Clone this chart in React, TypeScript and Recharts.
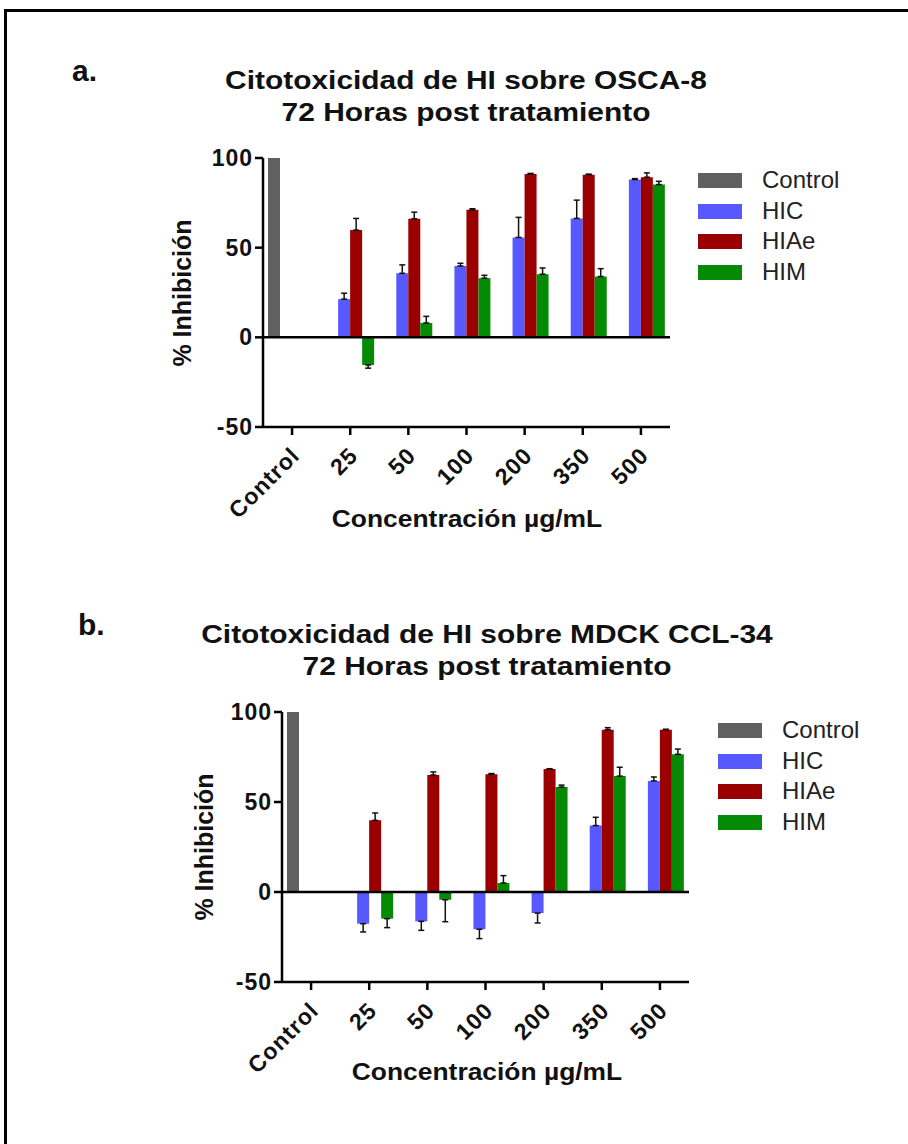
import React from "react";
import { BarChart, Bar, XAxis, YAxis, ErrorBar, ReferenceLine } from "recharts";

const categories = ["Control", "25", "50", "100", "200", "350", "500"];
const yTicks = [-50, 0, 50, 100];

// a. OSCA-8
const controlA = [100, null, null, null, null, null, null];
const hicA = [null, 21.3, 35.7, 39.8, 55.7, 66.3, 88.0];
const hicErrA = [null, 3.3, 4.7, 1.5, 11.2, 10.2, 0.5];
const hiaeA = [null, 59.8, 66.1, 71.1, 91.1, 90.7, 89.3];
const hiaeErrA = [null, 6.5, 3.7, 0.6, 0.3, 0.3, 2.4];
const himA = [null, -15.4, 8.0, 33.0, 35.2, 33.9, 85.2];
const himErrA = [null, 1.8, 3.7, 1.6, 3.5, 4.4, 1.8];

// b. MDCK CCL-34
const controlB = [100, null, null, null, null, null, null];
const hicB = [null, -17.6, -16.3, -20.7, -11.7, 36.9, 61.7];
const hicErrB = [null, 4.6, 5.0, 5.2, 5.5, 4.6, 2.2];
const hiaeB = [null, 39.8, 65.0, 65.4, 68.3, 90.2, 90.2];
const hiaeErrB = [null, 4.1, 1.7, 0.4, 0.2, 1.1, 0.2];
const himB = [null, -14.8, -4.3, 5.0, 58.3, 64.4, 76.5];
const himErrB = [null, 5.0, 12.2, 4.1, 1.1, 4.9, 2.9];

const series = [
  { key: "control", name: "Control", color: "#606060" },
  { key: "hic", name: "HIC", color: "#5858ff" },
  { key: "hiae", name: "HIAe", color: "#9a0000" },
  { key: "him", name: "HIM", color: "#058a05" },
];

const FONT = '"Liberation Sans", Arial, sans-serif';

// one-sided SD bars, pointing away from zero
function errPair(v: number | null, e: number | null) {
  if (v == null || e == null) return null;
  return v < 0 ? [e, 0] : [0, e];
}

function buildRows(
  control: (number | null)[],
  hic: (number | null)[],
  hicErr: (number | null)[],
  hiae: (number | null)[],
  hiaeErr: (number | null)[],
  him: (number | null)[],
  himErr: (number | null)[]
) {
  return categories.map((cat, i) => ({
    cat,
    control: control[i],
    hic: hic[i],
    hicErr: errPair(hic[i], hicErr[i]),
    hiae: hiae[i],
    hiaeErr: errPair(hiae[i], hiaeErr[i]),
    him: him[i],
    himErr: errPair(him[i], himErr[i]),
  }));
}

const dataA = buildRows(controlA, hicA, hicErrA, hiaeA, hiaeErrA, himA, himErrA);
const dataB = buildRows(controlB, hicB, hicErrB, hiaeB, hiaeErrB, himB, himErrB);

const AngledTick = (props: any) => {
  const { x, y, payload } = props;
  return (
    <g transform={`translate(${x + 9},${y + 20}) rotate(-45)`}>
      <text
        x={0}
        y={0}
        textAnchor="end"
        fontFamily={FONT}
        fontWeight="bold"
        fontSize={23}
        letterSpacing={1}
        fill="#111"
      >
        {payload.value}
      </text>
    </g>
  );
};

interface PanelProps {
  data: any[];
  top: number;
  height: number;
  plotLeft: number;
  plotRight: number;
  plotTop: number;
  plotBottom: number;
  letter: string;
  letterX: number;
  letterY: number;
  title: string[];
  titleX: number;
  titleY: number;
  legendX: number;
  legendY: number;
  yLabelX: number;
  xLabelX: number;
  xLabelY: number;
}

function Panel(p: PanelProps) {
  const xAxisH = 90;
  const yAxisW = 60;
  const margin = {
    top: p.plotTop - p.top,
    left: p.plotLeft - yAxisW,
    right: 908 - p.plotRight,
    bottom: p.top + p.height - p.plotBottom - xAxisH,
  };
  const yMid = (p.plotTop + p.plotBottom) / 2;
  return (
    <>
      <div
        style={{
          position: "absolute",
          left: p.letterX,
          top: p.letterY,
          fontFamily: FONT,
          fontWeight: "bold",
          fontSize: 30,
          lineHeight: "30px",
          color: "#111",
        }}
      >
        {p.letter}
      </div>
      <div style={{ position: "absolute", left: p.titleX, top: p.titleY - 16, width: 0 }}>
        {p.title.map((t, i) => (
          <div
            key={i}
            style={{
              position: "absolute",
              left: 0,
              top: i * 32,
              whiteSpace: "nowrap",
              transform: "translateX(-50%) scaleX(1.15)",
              fontFamily: FONT,
              fontWeight: "bold",
              fontSize: 26,
              lineHeight: "32px",
              color: "#111",
            }}
          >
            {t}
          </div>
        ))}
      </div>
      <div style={{ position: "absolute", left: 0, top: p.top }}>
        <BarChart width={908} height={p.height} data={p.data} margin={margin} barGap={0} barSize={12}>
          <XAxis
            dataKey="cat"
            height={xAxisH}
            interval={0}
            axisLine={{ stroke: "#000", strokeWidth: 2.5 }}
            tickLine={{ stroke: "#000", strokeWidth: 2.5 }}
            tickSize={8}
            tick={<AngledTick />}
          />
          <YAxis
            width={yAxisW}
            domain={[-50, 100]}
            ticks={yTicks}
            interval={0}
            axisLine={{ stroke: "#000", strokeWidth: 2.5 }}
            tickLine={{ stroke: "#000", strokeWidth: 2.5 }}
            tickSize={8}
            tick={{ fontFamily: FONT, fontWeight: "bold", fontSize: 23, fill: "#111", letterSpacing: 1 }}
          />
          {series.map((s) => (
            <Bar key={s.key} dataKey={s.key} fill={s.color} isAnimationActive={false}>
              {s.key !== "control" && (
                <ErrorBar dataKey={`${s.key}Err`} width={3} strokeWidth={1.5} stroke="#111" direction="y" />
              )}
            </Bar>
          ))}
          <ReferenceLine y={0} stroke="#000" strokeWidth={2.5} />
        </BarChart>
      </div>
      <div
        style={{
          position: "absolute",
          left: p.yLabelX,
          top: yMid,
          transform: "translate(-50%, -50%) rotate(-90deg)",
          whiteSpace: "nowrap",
          fontFamily: FONT,
          fontWeight: "bold",
          fontSize: 25,
          color: "#111",
        }}
      >
        % Inhibición
      </div>
      <div
        style={{
          position: "absolute",
          left: p.xLabelX,
          top: p.xLabelY,
          transform: "translate(-50%, -50%) scaleX(1.1)",
          whiteSpace: "nowrap",
          fontFamily: FONT,
          fontWeight: "bold",
          fontSize: 24,
          color: "#111",
        }}
      >
        Concentración µg/mL
      </div>
      <div style={{ position: "absolute", left: p.legendX, top: p.legendY }}>
        {series.map((s, i) => (
          <div key={s.key} style={{ position: "absolute", left: 0, top: i * 30.7, height: 30, width: 200 }}>
            <div style={{ position: "absolute", left: 0, top: 8, width: 44, height: 15, background: s.color }} />
            <div
              style={{
                position: "absolute",
                left: 64,
                top: 1,
                fontFamily: FONT,
                fontSize: 24,
                lineHeight: "28px",
                color: "#222",
                whiteSpace: "nowrap",
              }}
            >
              {s.name}
            </div>
          </div>
        ))}
      </div>
    </>
  );
}

export default function App() {
  return (
    <div style={{ position: "absolute", left: 0, top: 0, width: 908, height: 1144, background: "#fff", overflow: "hidden" }}>
      <div
        style={{
          position: "absolute",
          left: 4,
          top: 9,
          width: 1000,
          height: 1200,
          borderTop: "3px solid #000",
          borderLeft: "3px solid #000",
        }}
      />
      <Panel
        data={dataA}
        top={0}
        height={560}
        plotLeft={263}
        plotRight={670}
        plotTop={158}
        plotBottom={427}
        letter="a."
        letterX={72}
        letterY={56}
        title={["Citotoxicidad de HI sobre OSCA-8", "72 Horas post tratamiento"]}
        titleX={466}
        titleY={80}
        legendX={698}
        legendY={165}
        yLabelX={182}
        xLabelX={467}
        xLabelY={519}
      />
      <Panel
        data={dataB}
        top={560}
        height={584}
        plotLeft={282}
        plotRight={689}
        plotTop={712}
        plotBottom={982}
        letter="b."
        letterX={78}
        letterY={610}
        title={["Citotoxicidad de HI sobre MDCK CCL-34", "72 Horas post tratamiento"]}
        titleX={487}
        titleY={634}
        legendX={718}
        legendY={715}
        yLabelX={204}
        xLabelX={487}
        xLabelY={1072}
      />
    </div>
  );
}
